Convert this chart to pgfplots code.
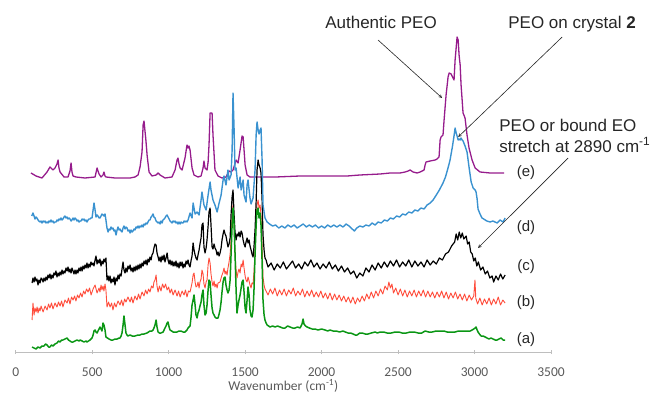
\documentclass[border=0pt]{standalone}
\usepackage{pgfplots}
\pgfplotsset{compat=1.18}
\usepackage{fontspec}
\setmainfont{Liberation Sans}
\newfontfamily\carlito{Carlito}
\definecolor{cmag}{RGB}{150,28,140}
\definecolor{cblue}{RGB}{58,146,208}
\definecolor{cred}{RGB}{255,45,25}
\definecolor{cgreen}{RGB}{10,150,20}
\definecolor{tickgray}{RGB}{89,89,89}
\definecolor{axgray}{RGB}{190,190,190}
\begin{document}
\begin{tikzpicture}
\path[use as bounding box] (-15.7pt,-42pt) rectangle (638.3pt,352pt);
\begin{axis}[
  at={(0,0)}, anchor=south west,
  scale only axis, width=535.3pt, height=352pt,
  xmin=0, xmax=3500, ymin=0, ymax=352,
  axis x line*=bottom, axis y line=none,
  x axis line style={axgray, line width=0.8pt},
  xtick={0,500,...,3500}, xticklabels={0,500,1000,1500,2000,2500,3000,3500},
  ytick=\empty,
  tick align=center, major tick length=4pt,
  x tick style={axgray, line width=0.8pt},
  xticklabel style={font=\carlito\fontsize{13.5}{14}\selectfont, text=tickgray, anchor=center, yshift=-18pt},
  xlabel={Wavenumber (cm\textsuperscript{-1})},
  xlabel style={font=\carlito\fontsize{13.5}{14}\selectfont, text=tickgray, at={(axis description cs:0.5,-0.0966)}, anchor=center},
  clip=false,
  line join=round,
]
% (e) magenta
\addplot[cmag, line width=1.3pt, mark=none] coordinates {
(100,179)(133,176)(172,174)(205,180)(224,185)(244,182)(257,184)(270,188)(277,192)(283,184)(290,180)(316,175)(342,175)(355,181)(362,189)(368,180)(375,176)(394,175)(453,174)(519,175)(532,184)(545,178)(558,175)(571,177)(577,180)(584,176)(590,175)(649,174)(748,174)(780,175)(800,177)(813,185)(826,200)(833,227)(839,231)(846,220)(850,214)(855,205)(859,197)(872,180)(891,176)(918,177)(931,179)(944,177)(976,174)(1022,175)(1042,182)(1055,192)(1061,194)(1068,188)(1075,184)(1088,182)(1107,194)(1120,207)(1127,204)(1133,206)(1140,202)(1153,184)(1166,177)(1192,175)(1212,176)(1225,184)(1231,191)(1238,184)(1251,182)(1258,190)(1264,207)(1271,239)(1277,239)(1284,239)(1290,217)(1303,182)(1323,176)(1349,174)(1375,175)(1395,181)(1408,180)(1421,182)(1441,192)(1454,189)(1467,202)(1480,216)(1487,215)(1500,187)(1513,177)(1532,175)(1600,175)(1700,175)(1860,176)(2000,176)(2167,176)(2250,177)(2383,178)(2448,179)(2513,179)(2546,180)(2566,181)(2579,182)(2598,180)(2625,179)(2644,180)(2670,182)(2677,187)(2683,190)(2710,191)(2742,192)(2755,193)(2768,195)(2775,212)(2781,215)(2794,217)(2801,232)(2814,257)(2827,275)(2834,279)(2847,278)(2853,276)(2866,272)(2873,292)(2886,315)(2893,312)(2899,297)(2906,287)(2912,267)(2925,239)(2938,234)(2951,217)(2964,204)(2984,192)(3004,184)(3036,180)(3102,179)(3193,179)
};
% (b) red
\addplot[cred, opacity=0.85, line width=0.9pt, mark=none] coordinates {
(107,32)(113,49)(120,37)(126,44)(133,40)(140,45)(146,39)(153,44)(159,41)(166,46)(179,40)(192,46)(205,42)(215,48)(224,44)(234,49)(244,43)(257,49)(270,45)(280,50)(290,46)(300,51)(309,45)(322,52)(336,49)(345,54)(355,48)(365,55)(375,52)(385,56)(394,51)(404,57)(414,54)(424,59)(434,55)(444,61)(453,58)(463,63)(473,60)(483,64)(493,57)(506,63)(519,67)(532,59)(545,64)(551,60)(558,67)(564,62)(571,66)(577,61)(584,68)(590,62)(597,45)(607,50)(617,45)(627,49)(636,42)(646,49)(656,45)(669,51)(682,47)(692,52)(702,46)(712,53)(721,50)(734,55)(748,50)(757,55)(767,49)(780,56)(793,52)(803,58)(813,53)(826,60)(839,56)(849,62)(859,58)(869,63)(878,60)(888,66)(898,64)(904,70)(911,72)(918,77)(924,66)(931,60)(940,66)(950,61)(960,68)(970,64)(980,68)(990,62)(1000,65)(1009,59)(1019,63)(1029,57)(1042,62)(1055,56)(1065,61)(1075,55)(1088,61)(1101,57)(1110,62)(1120,55)(1130,61)(1140,60)(1153,69)(1160,77)(1166,79)(1173,70)(1179,65)(1186,66)(1192,70)(1199,64)(1205,70)(1212,73)(1218,82)(1225,78)(1231,68)(1238,64)(1245,70)(1251,72)(1258,87)(1264,94)(1271,89)(1277,78)(1284,70)(1290,66)(1297,71)(1303,65)(1310,68)(1317,64)(1323,69)(1336,70)(1343,74)(1349,77)(1356,80)(1362,84)(1369,78)(1375,81)(1382,77)(1388,84)(1395,90)(1402,98)(1408,112)(1415,137)(1421,147)(1428,127)(1434,97)(1441,82)(1447,74)(1454,80)(1460,83)(1467,79)(1474,88)(1480,85)(1487,92)(1493,84)(1500,76)(1506,72)(1513,70)(1519,75)(1526,71)(1532,67)(1539,64)(1545,69)(1552,68)(1558,80)(1565,102)(1572,130)(1578,147)(1585,152)(1591,144)(1598,147)(1604,137)(1611,107)(1617,75)(1624,67)(1630,63)(1640,60)
(1650,57)(1665,63)(1680,58)(1695,64)(1710,56)(1725,62)(1740,57)(1755,63)(1770,56)(1785,62)(1800,58)(1815,64)(1830,56)(1845,61)(1860,57)(1875,63)(1890,55)(1905,61)(1920,56)(1935,62)(1950,55)(1965,60)(1980,55)(1995,61)(2010,54)(2025,59)(2040,53)(2055,59)(2070,52)(2085,58)(2100,52)(2115,57)(2130,51)(2145,56)(2160,50)(2175,55)(2190,49)(2205,55)(2220,48)(2235,54)(2250,50)(2265,56)(2280,51)(2295,58)(2310,53)(2325,60)(2340,54)(2355,61)(2370,56)(2385,63)(2400,58)(2415,66)(2430,62)(2440,70)(2450,64)(2460,68)(2470,59)(2485,64)(2500,57)(2515,63)(2530,56)(2545,62)(2560,55)(2575,61)(2590,56)(2605,62)(2620,55)(2635,61)(2650,56)(2665,62)(2680,55)(2695,61)(2710,55)(2725,60)(2740,54)(2755,60)(2770,55)(2785,61)(2800,54)(2815,60)(2830,53)(2845,59)(2860,54)(2875,60)(2890,53)(2905,58)(2920,52)(2935,58)(2950,51)(2965,57)(2980,52)(2995,56)(3003,72)(3008,54)(3020,48)(3035,54)(3050,47)(3065,53)(3080,48)(3095,54)(3110,47)(3125,53)(3140,48)(3155,55)(3170,47)(3185,52)(3200,49)
};
% (c) black
\addplot[black, line width=1.2pt, mark=none] coordinates {
(107,69)(113,74)(120,70)(126,75)(133,71)(139,73)(146,67)(152,72)(159,69)(166,74)(172,73)(179,70)(185,74)(192,71)(198,75)(205,72)(211,77)(218,74)(224,78)(231,73)(237,77)(244,74)(250,79)(257,77)(263,81)(270,75)(277,79)(283,76)(290,80)(296,77)(303,82)(309,78)(316,81)(322,79)(329,84)(336,81)(342,85)(349,80)(355,83)(362,79)(368,84)(375,81)(381,78)(388,82)(394,78)(401,82)(407,79)(414,84)(421,81)(427,85)(434,81)(440,86)(447,83)(453,87)(460,84)(466,89)(473,84)(479,88)(486,85)(492,90)(499,87)(505,89)(512,86)(519,92)(525,96)(532,88)(538,92)(545,89)(551,93)(558,86)(564,91)(571,88)(577,93)(584,90)(590,94)(597,72)(604,76)(610,71)(617,76)(623,69)(630,73)(636,70)(643,75)(649,67)(656,74)(663,71)(669,77)(676,73)(682,78)(689,76)(695,83)(702,90)(708,82)(715,79)(721,84)(728,80)(734,86)(741,83)(748,87)(754,81)(761,84)(767,80)(774,85)(780,81)(787,86)(793,82)(800,87)(806,83)(813,88)(819,84)(826,89)(833,86)(839,91)(846,88)(852,92)(859,87)(865,93)(872,90)(878,95)(885,92)(891,97)(898,99)(904,104)(911,108)(918,107)(924,99)(931,95)(937,91)(944,95)(950,90)(957,96)(963,92)(970,97)(976,90)(983,94)(990,99)(996,92)(1003,88)(1009,92)(1016,87)(1022,91)(1029,86)(1035,90)(1042,86)(1048,91)(1055,85)(1061,89)(1068,84)(1075,90)(1081,86)(1088,90)(1094,84)(1101,88)(1107,85)(1114,91)(1120,88)(1127,92)(1133,87)(1140,85)(1146,91)(1153,96)(1160,109)(1166,102)(1173,97)(1179,94)(1186,92)(1192,97)(1199,102)(1205,108)(1212,114)(1218,127)(1225,129)(1231,105)(1238,99)(1245,104)(1251,112)(1258,126)(1264,140)(1271,144)(1277,127)(1284,105)(1290,103)(1297,108)(1303,104)(1310,102)(1317,97)(1323,100)(1330,96)(1336,99)(1343,104)(1349,112)(1356,118)(1362,122)(1369,118)(1375,116)(1382,110)(1388,105)(1395,108)(1402,114)(1408,137)(1415,155)(1421,162)(1428,137)(1434,120)(1441,112)(1447,118)(1454,116)(1460,120)(1467,115)(1474,121)(1480,119)(1487,112)(1493,108)(1500,105)(1506,110)(1513,114)(1519,109)(1526,112)(1532,106)(1539,102)(1545,98)(1552,95)(1558,105)(1565,122)(1572,150)(1578,182)(1585,192)(1591,187)(1598,184)(1604,179)(1611,152)(1617,117)(1624,102)(1630,94)(1637,92)(1644,88)
(1650,85)(1670,89)(1690,82)(1710,88)(1730,84)(1750,90)(1770,83)(1790,87)(1810,91)(1830,84)(1850,88)(1870,83)(1890,90)(1910,86)(1930,92)(1950,85)(1970,89)(1990,83)(2010,88)(2030,84)(2050,90)(2070,83)(2090,87)(2110,81)(2130,86)(2150,80)(2170,84)(2190,78)(2210,81)(2230,74)(2250,79)(2270,76)(2290,84)(2310,80)(2330,87)(2350,82)(2370,89)(2390,84)(2410,90)(2430,85)(2450,91)(2470,86)(2490,92)(2510,85)(2530,90)(2550,86)(2570,92)(2590,85)(2610,91)(2630,86)(2650,90)(2670,85)(2690,92)(2710,87)(2730,91)(2750,88)(2770,94)(2790,92)(2810,98)(2830,100)(2850,106)(2870,110)(2880,118)(2890,112)(2900,120)(2910,114)(2920,119)(2930,113)(2945,116)(2955,108)(2965,110)(2975,100)(2985,98)(2995,91)(3005,94)(3015,86)(3025,90)(3040,82)(3055,85)(3070,78)(3085,81)(3100,74)(3115,76)(3125,70)(3140,76)(3155,72)(3170,78)(3185,73)(3200,77)
};
% (a) green
\addplot[cgreen, line width=1.5pt, mark=none] coordinates {
(107,5)(120,4)(133,3)(146,5)(159,4)(172,6)(185,6)(195,8)(205,7)(215,5)(224,5)(234,7)(244,6)(257,8)(270,9)(280,11)(290,10)(300,12)(309,12)(322,13)(336,14)(345,12)(355,11)(365,10)(375,10)(388,11)(401,12)(414,11)(421,12)(434,11)(447,10)(460,11)(466,10)(476,11)(486,12)(499,14)(506,17)(512,21)(519,22)(525,20)(532,19)(538,21)(545,23)(551,25)(558,23)(564,21)(571,29)(577,27)(584,22)(590,15)(600,14)(610,13)(623,12)(636,12)(649,13)(663,13)(676,14)(682,14)(689,16)(695,19)(702,27)(708,36)(715,27)(721,19)(728,17)(734,16)(748,17)(761,16)(780,16)(800,17)(813,17)(826,18)(839,18)(859,19)(878,21)(891,21)(898,22)(904,24)(911,27)(918,32)(924,25)(931,20)(940,19)(950,19)(964,20)(976,24)(983,26)(990,29)(996,30)(1003,25)(1009,22)(1020,21)(1029,20)(1042,20)(1055,20)(1068,21)(1081,21)(1094,20)(1107,20)(1120,22)(1127,24)(1133,25)(1140,26)(1146,34)(1153,47)(1160,52)(1166,57)(1173,47)(1179,37)(1186,34)(1192,39)(1199,42)(1205,46)(1212,50)(1218,57)(1225,62)(1231,47)(1238,37)(1245,39)(1251,47)(1258,62)(1264,72)(1271,70)(1277,57)(1284,44)(1290,39)(1297,37)(1303,35)(1310,34)(1317,34)(1323,34)(1330,38)(1336,42)(1343,50)(1349,60)(1356,70)(1362,74)(1369,75)(1375,67)(1382,62)(1388,59)(1395,62)(1402,72)(1408,97)(1415,127)(1421,144)(1428,127)(1434,99)(1441,62)(1447,39)(1454,47)(1460,52)(1467,57)(1474,64)(1480,70)(1487,72)(1493,60)(1500,44)(1506,39)(1513,52)(1519,65)(1526,57)(1532,42)(1539,36)(1545,35)(1552,42)(1558,62)(1565,97)(1572,127)(1578,142)(1585,144)(1591,134)(1598,139)(1604,127)(1611,90)(1617,52)(1624,37)(1630,32)(1637,29)(1644,27)(1663,25)(1680,26)(1696,25)(1712,26)(1729,25)(1745,24)(1761,24)(1778,26)(1794,25)(1810,24)(1827,24)(1843,25)(1859,24)(1866,26)(1872,28)(1879,33)(1885,28)(1895,26)(1905,25)(1920,24)(1938,23)(1957,23)(1977,22)(2000,23)(2023,22)(2040,21)(2055,22)(2075,21)(2095,21)(2118,20)(2140,21)(2155,20)(2173,19)(2190,19)(2206,18)(2220,17)(2232,17)(2250,19)(2265,19)(2285,18)(2304,18)(2325,19)(2350,20)(2365,19)(2383,20)(2405,20)(2428,19)(2455,19)(2481,20)(2505,20)(2526,19)(2555,19)(2579,20)(2605,20)(2631,19)(2655,19)(2677,21)(2700,20)(2723,20)(2750,21)(2775,21)(2800,21)(2821,20)(2845,20)(2873,20)(2895,21)(2919,21)(2940,21)(2958,21)(2972,21)(2984,22)(2995,23)(3004,24)(3010,25)(3017,22)(3023,20)(3032,18)(3043,16)(3056,16)(3069,15)(3082,14)(3095,13)(3108,14)(3121,13)(3135,12)(3148,12)(3160,13)(3174,14)(3187,12)(3200,12)
};
% (d) blue
\addplot[cblue, line width=1.4pt, mark=none] coordinates {
(105,136)(113,139)(120,136)(126,133)(133,135)(139,134)(146,132)(152,131)(159,130)(166,131)(172,129)(179,131)(185,130)(192,131)(198,129)(205,130)(211,129)(218,131)(224,130)(231,132)(237,130)(244,131)(250,129)(257,130)(264,130)(270,132)(277,131)(283,133)(290,132)(296,134)(303,132)(309,133)(316,135)(322,136)(329,134)(336,135)(342,133)(349,134)(355,133)(362,131)(368,132)(375,134)(381,132)(388,134)(394,133)(401,131)(407,132)(414,130)(421,131)(427,131)(434,133)(440,132)(447,133)(453,131)(460,132)(466,130)(473,132)(479,133)(486,133)(492,134)(499,134)(506,142)(512,149)(519,142)(525,135)(532,137)(538,136)(545,134)(551,134)(558,136)(564,138)(571,137)(577,136)(584,138)(590,132)(597,124)(604,120)(610,123)(617,122)(623,125)(630,123)(636,124)(643,121)(649,122)(656,117)(663,122)(669,125)(676,122)(682,123)(689,121)(695,120)(702,124)(708,126)(715,123)(721,125)(728,124)(734,121)(741,122)(748,119)(754,122)(761,120)(767,121)(774,123)(780,122)(787,125)(793,124)(800,126)(806,124)(813,126)(819,125)(826,127)(833,125)(839,128)(846,127)(852,129)(859,128)(865,130)(872,132)(878,132)(885,135)(891,136)(898,138)(904,135)(911,134)(918,131)(924,130)(931,129)(937,130)(944,128)(950,131)(957,129)(963,132)(970,133)(976,134)(983,136)(990,137)(996,135)(1003,133)(1009,131)(1016,130)(1022,129)(1029,131)(1035,130)(1042,131)(1048,129)(1055,130)(1061,128)(1068,130)(1075,128)(1081,130)(1088,129)(1094,129)(1101,131)(1107,130)(1114,131)(1120,130)
(1127,132)(1140,139)(1153,134)(1160,149)(1173,138)(1186,140)(1199,137)(1212,152)(1218,160)(1231,147)(1245,142)(1258,157)(1271,170)(1277,162)(1290,152)(1303,147)(1317,140)(1330,149)(1343,157)(1356,172)(1362,176)(1375,167)(1388,182)(1395,172)(1408,177)(1415,202)(1421,259)(1428,222)(1434,182)(1441,184)(1454,164)(1467,175)(1474,162)(1487,172)(1493,157)(1506,150)(1513,167)(1519,172)(1532,154)(1539,148)(1552,154)(1565,182)(1572,217)(1578,230)(1585,222)(1591,218)(1598,222)(1604,224)(1611,192)(1617,147)(1630,134)(1644,130)
(1660,128)(1680,126)(1700,127)(1720,124)(1740,126)(1760,124)(1780,127)(1800,125)(1820,127)(1840,124)(1860,126)(1880,128)(1900,125)(1920,127)(1940,125)(1960,127)(1980,124)(2000,126)(2020,124)(2040,127)(2060,125)(2080,127)(2100,125)(2120,127)(2140,125)(2160,128)(2180,126)(2200,123)(2215,121)(2230,124)(2250,126)(2270,125)(2290,127)(2310,126)(2330,129)(2350,127)(2370,130)(2390,129)(2410,132)(2430,131)(2450,134)(2470,133)(2490,136)(2510,135)(2530,138)(2550,137)(2570,140)(2590,139)(2610,142)(2630,141)(2650,144)(2670,143)(2690,147)(2710,149)(2729,152)(2750,157)(2770,162)(2794,169)(2810,175)(2825,183)(2840,192)(2855,205)(2865,215)(2873,224)(2880,219)(2886,216)(2893,212)(2899,213)(2906,212)(2912,214)(2919,212)(2925,211)(2938,206)(2951,200)(2964,185)(2978,170)(2991,164)(3004,162)(3010,160)(3017,153)(3023,143)(3036,138)(3049,134)(3060,133)(3080,131)(3102,130)(3120,131)(3148,129)(3167,132)(3187,130)(3200,134)
};
% series labels
\begin{scope}[every node/.style={font=\fontsize{15}{17}\selectfont, text=black!85, anchor=center, inner sep=0pt}]
\node at (axis cs:3337,179) {(e)};
\node at (axis cs:3337,124) {(d)};
\node at (axis cs:3337,85) {(c)};
\node at (axis cs:3337,49) {(b)};
\node at (axis cs:3337,12) {(a)};
\end{scope}
% annotations
\begin{scope}[every node/.style={font=\fontsize{17}{20}\selectfont, text=black!85, inner sep=0pt}]
\node[anchor=center] at (axis cs:2389,330) {Authentic PEO};
\node[anchor=center] at (axis cs:3638,328) {PEO on crystal \textbf{2}};
\node[anchor=west] at (axis cs:3161,227) {PEO or bound EO};
\node[anchor=west] at (axis cs:3161,207) {stretch at 2890 cm\textsuperscript{-1}};
\end{scope}
\draw[-stealth, black!85, line width=0.6pt] (axis cs:2369,312) -- (axis cs:2788,254);
\draw[-stealth, black!85, line width=0.6pt] (axis cs:3573,315) -- (axis cs:2893,215);
\draw[-stealth, black!85, line width=0.6pt] (axis cs:3612,194) -- (axis cs:3023,104);
\end{axis}
\end{tikzpicture}
\end{document}
